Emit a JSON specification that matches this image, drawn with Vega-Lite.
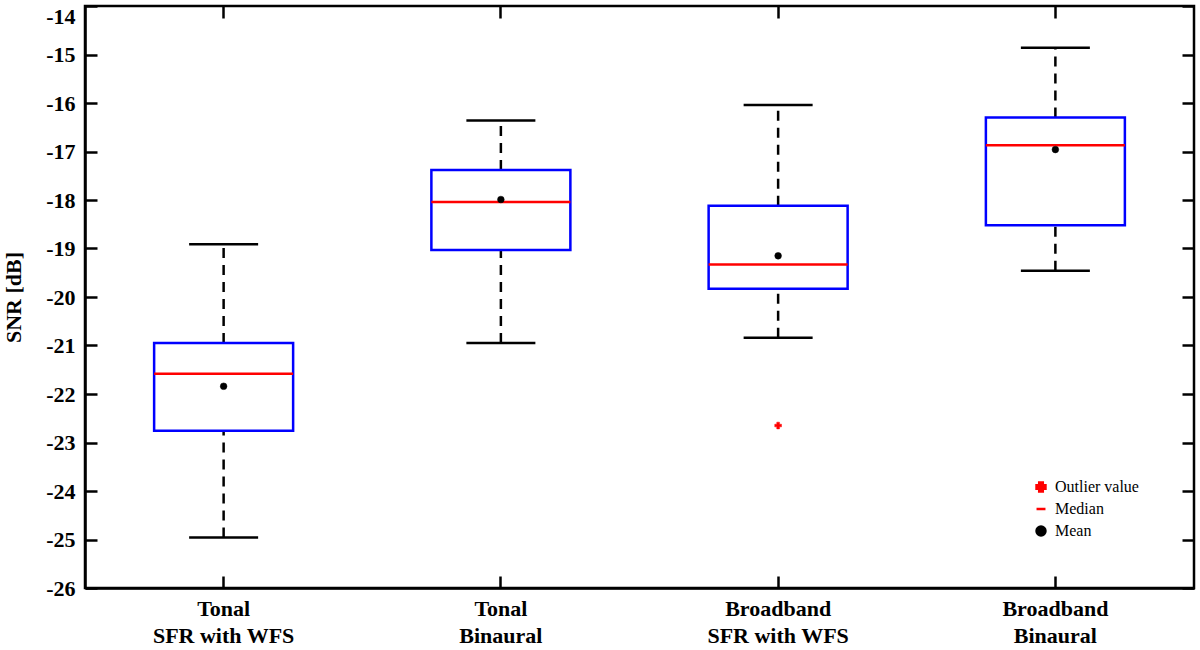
{
  "$schema": "https://vega.github.io/schema/vega-lite/v6.json",
  "autosize": "none",
  "padding": {"left": 85, "top": 6, "right": 5, "bottom": 62},
  "width": 1109,
  "height": 582,
  "background": "white",
  "config": {
    "font": "Liberation Serif",
    "view": {"stroke": "black", "strokeWidth": 2.5},
    "tick": {"opacity": 1},
    "axis": {
      "labelFont": "Liberation Serif",
      "labelFontWeight": "bold",
      "labelFontSize": 22,
      "labelColor": "black",
      "titleFont": "Liberation Serif",
      "titleFontWeight": "bold",
      "titleFontSize": 22,
      "titleColor": "black",
      "domainColor": "black",
      "domainWidth": 2.5,
      "tickColor": "black",
      "tickWidth": 2.5,
      "tickSize": -12,
      "grid": false
    }
  },
  "datasets": {
    "boxes": [
      {"condition": "Tonal\nSFR with WFS", "lower": -24.96, "q1": -22.76, "median": -21.58, "q3": -20.95, "upper": -18.91, "mean": -21.84},
      {"condition": "Tonal\nBinaural", "lower": -20.95, "q1": -19.03, "median": -18.04, "q3": -17.38, "upper": -16.36, "mean": -17.99},
      {"condition": "Broadband\nSFR with WFS", "lower": -20.84, "q1": -19.83, "median": -19.33, "q3": -18.12, "upper": -16.04, "mean": -19.15},
      {"condition": "Broadband\nBinaural", "lower": -19.46, "q1": -18.52, "median": -16.87, "q3": -16.3, "upper": -14.86, "mean": -16.96}
    ],
    "points": [
      {"condition": "Tonal\nSFR with WFS", "value": -21.84, "kind": "Mean"},
      {"condition": "Tonal\nBinaural", "value": -17.99, "kind": "Mean"},
      {"condition": "Broadband\nSFR with WFS", "value": -19.15, "kind": "Mean"},
      {"condition": "Broadband\nBinaural", "value": -16.96, "kind": "Mean"},
      {"condition": "Broadband\nSFR with WFS", "value": -22.65, "kind": "Outlier value"}
    ]
  },
  "data": {"name": "boxes"},
  "encoding": {
    "x": {
      "field": "condition",
      "type": "nominal",
      "sort": null,
      "scale": {"paddingInner": 0, "paddingOuter": 0},
      "axis": null
    }
  },
  "layer": [
    {
      "mark": {"type": "rule", "strokeDash": [10, 7], "strokeWidth": 2.5, "color": "black"},
      "encoding": {
        "y": {"field": "q3", "type": "quantitative", "scale": {"domain": [-26, -14], "nice": false, "zero": false}, "axis": null},
        "y2": {"field": "upper"}
      }
    },
    {
      "mark": {"type": "rule", "strokeDash": [10, 7], "strokeWidth": 2.5, "color": "black"},
      "encoding": {
        "y": {"field": "lower", "type": "quantitative", "axis": null},
        "y2": {"field": "q1"}
      }
    },
    {
      "mark": {"type": "bar", "size": 139, "fill": "white", "stroke": "blue", "strokeWidth": 2.5},
      "encoding": {
        "x": {
          "field": "condition",
          "type": "nominal",
          "sort": null,
          "axis": {
            "title": null,
            "orient": "bottom",
            "labelAngle": 0,
            "labelPadding": 22,
            "labelLineHeight": 27,
            "labelExpr": "split(datum.value, '\\n')"
          }
        },
        "y": {
          "field": "q1",
          "type": "quantitative",
          "axis": {
            "title": "SNR [dB]",
            "orient": "left",
            "values": [-26, -25, -24, -23, -22, -21, -20, -19, -18, -17, -16, -15, -14],
            "labelExpr": "toString(datum.value)",
            "labelBaseline": {"condition": {"test": "datum.value == -14", "value": "top"}, "value": "middle"},
            "labelPadding": 22,
            "titlePadding": 20
          }
        },
        "y2": {"field": "q3"}
      }
    },
    {
      "mark": {"type": "tick", "size": 139, "thickness": 2.5, "color": "red", "opacity": 1},
      "encoding": {
        "x": {
          "field": "condition",
          "type": "nominal",
          "sort": null,
          "axis": {"orient": "top", "labels": false, "title": null, "domain": false}
        },
        "y": {
          "field": "median",
          "type": "quantitative",
          "axis": {
            "orient": "right",
            "labels": false,
            "title": null,
            "domain": false,
            "values": [-26, -25, -24, -23, -22, -21, -20, -19, -18, -17, -16, -15, -14]
          }
        }
      }
    },
    {
      "mark": {"type": "tick", "size": 69, "thickness": 2.5, "color": "black", "opacity": 1},
      "encoding": {"y": {"field": "upper", "type": "quantitative", "axis": null}}
    },
    {
      "mark": {"type": "tick", "size": 69, "thickness": 2.5, "color": "black", "opacity": 1},
      "encoding": {"y": {"field": "lower", "type": "quantitative", "axis": null}}
    },
    {
      "data": {"name": "points"},
      "mark": {"type": "point", "filled": true, "opacity": 1, "strokeWidth": 0.5},
      "encoding": {
        "y": {"field": "value", "type": "quantitative", "axis": null},
        "shape": {
          "field": "kind",
          "type": "nominal",
          "scale": {"domain": ["Outlier value", "Median", "Mean"], "range": ["cross", "stroke", "circle"]},
          "legend": {
            "title": null,
            "orient": "none",
            "legendX": 948,
            "legendY": 473,
            "labelFont": "Liberation Serif",
            "labelFontSize": 16,
            "labelColor": "black",
            "symbolSize": 80,
            "symbolStrokeWidth": 2.5,
            "rowPadding": 4,
            "labelOffset": 6
          }
        },
        "fill": {
          "field": "kind",
          "type": "nominal",
          "scale": {"domain": ["Outlier value", "Median", "Mean"], "range": ["red", "red", "black"]},
          "legend": null
        },
        "stroke": {
          "field": "kind",
          "type": "nominal",
          "scale": {"domain": ["Outlier value", "Median", "Mean"], "range": ["red", "red", "black"]},
          "legend": null
        },
        "size": {"value": 45}
      }
    }
  ],
  "resolve": {"axis": {"x": "independent", "y": "independent"}}
}
